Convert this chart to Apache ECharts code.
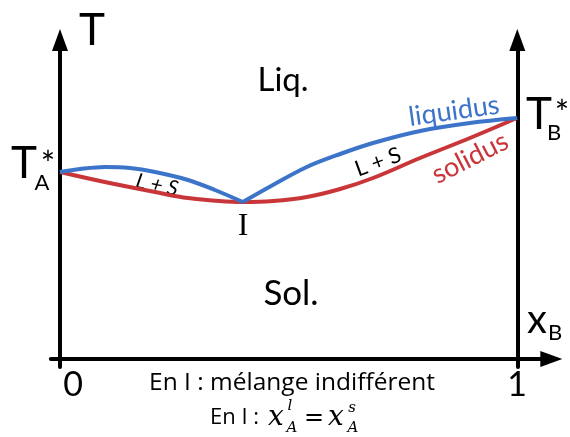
<!DOCTYPE html>
<html><head><meta charset="utf-8">
<script src="https://cdn.jsdelivr.net/npm/echarts@6/dist/echarts.min.js"></script>
<style>html,body{margin:0;padding:0;background:#fff}#c{width:570px;height:437px}</style>
</head><body><div id="c"></div>
<script>
// x_B (mole fraction of B) and temperature (arbitrary units)
const xLiqLeft  = [0, 0.044, 0.098, 0.153, 0.208, 0.280, 0.339, 0.400];
const tLiqLeft  = [187, 190, 192, 191, 187, 179, 169, 157];
const xLiqRight = [0.400, 0.466, 0.540, 0.613, 0.685, 0.788, 0.897, 1.0];
const tLiqRight = [157, 174, 192, 205, 216, 228, 236, 241];
const xSol = [0, 0.098, 0.208, 0.280, 0.400, 0.466, 0.540, 0.613, 0.685, 0.788, 0.897, 1.0];
const tSol = [187, 177, 167, 161, 157, 158, 162, 170, 181, 201, 221, 241];
const xTicks = [0, 1];
const xTickLabels = ['0', '1'];

const BLUE = '#3b74c9', RED = '#c8363a';
const zip = (a, b) => a.map((v, i) => [v, b[i]]);

const chart = echarts.init(document.getElementById('c'), null, {renderer: 'canvas'});
const SANS = 'Lato';
const axisLine = {show: true, onZero: true, lineStyle: {color: '#000', width: 4},
  symbol: ['none', 'triangle'], symbolSize: [16, 22]};

const txt = (text, x, y, size, opts = {}) => ({
  type: 'text', x, y, rotation: (opts.rot || 0) * Math.PI / 180,
  style: Object.assign({text, fontSize: size, fontFamily: opts.family || SANS,
    fontStyle: opts.italic ? 'italic' : 'normal', fill: opts.color || '#000',
    align: opts.align || 'center', verticalAlign: 'middle'}, opts.style || {})
});

chart.setOption({
  animation: false,
  grid: {left: 50.86, right: 18.7, top: 40, bottom: 70},
  xAxis: {type: 'value', min: -0.02, max: 1.075, axisLine,
    axisTick: {show: false}, splitLine: {show: false},
    axisLabel: {customValues: xTicks, margin: 1, color: '#000', fontSize: 34, fontFamily: SANS,
      formatter: v => xTicks.indexOf(v) === 0 ? '{a|' + xTickLabels[0] + '}' : '{b|' + xTickLabels[xTicks.indexOf(v)] + '}',
      rich: {a: {fontSize: 34, fontFamily: SANS, padding: [0, 0, 0, 26]}, b: {fontSize: 34, fontFamily: SANS}}}},
  yAxis: [
    {type: 'value', min: -8, max: 319, axisLine,
      axisTick: {show: false}, splitLine: {show: false}, axisLabel: {show: false}},
    {type: 'value', min: -8, max: 319, position: 'right', offset: -34,
      axisLine: Object.assign({}, axisLine, {onZero: false}),
      axisTick: {show: false}, splitLine: {show: false}, axisLabel: {show: false}}
  ],
  series: [
    {type: 'line', name: 'solidus', data: zip(xSol, tSol), smooth: 0.35, symbol: 'none',
      lineStyle: {color: RED, width: 4}, z: 2},
    {type: 'line', name: 'liquidus', data: zip(xLiqLeft, tLiqLeft), smooth: 0.35, symbol: 'none',
      lineStyle: {color: BLUE, width: 4}, z: 3},
    {type: 'line', name: 'liquidus2', data: zip(xLiqRight, tLiqRight), smooth: 0.35, symbol: 'none',
      lineStyle: {color: BLUE, width: 4}, z: 3}
  ],
  graphic: [
    txt('T', 92, 31, 44),
    txt('T', 24, 164, 44), txt('A', 42, 183, 22), txt('*', 48, 165, 34),
    txt('T', 539, 115, 44), txt('B', 554, 133, 22), txt('*', 562, 114, 34),
    txt('x', 537, 320, 40), txt('B', 555, 333, 22),
    txt('Liq.', 283, 80, 33),
    txt('Sol.', 291, 294, 35),
    txt('I', 243, 227, 32, {family: 'Liberation Serif'}),
    txt('L + S', 157, 185, 21, {rot: -12, italic: true}),
    txt('L + S', 378, 162, 22, {rot: 20}),
    txt('liquidus', 454, 111, 27, {rot: 8, color: BLUE}),
    txt('solidus', 470, 158, 27, {rot: 27, color: RED}),
    txt('En I : mélange indifférent', 292, 383, 24.5, {family: 'Open Sans'}),
    txt('En I : ', 210, 418, 22, {family: 'Open Sans', align: 'left'}),
    txt('x', 276, 418, 28, {family: 'DejaVu Serif', italic: true}),
    txt('l', 290, 406, 15, {family: 'DejaVu Serif', italic: true}),
    txt('A', 292, 428, 15, {family: 'DejaVu Serif', italic: true}),
    txt('=', 314, 419, 24, {family: 'DejaVu Serif'}),
    txt('x', 336, 418, 28, {family: 'DejaVu Serif', italic: true}),
    txt('s', 352, 408, 15, {family: 'DejaVu Serif', italic: true}),
    txt('A', 353, 428, 15, {family: 'DejaVu Serif', italic: true})
  ]
});
</script></body></html>
